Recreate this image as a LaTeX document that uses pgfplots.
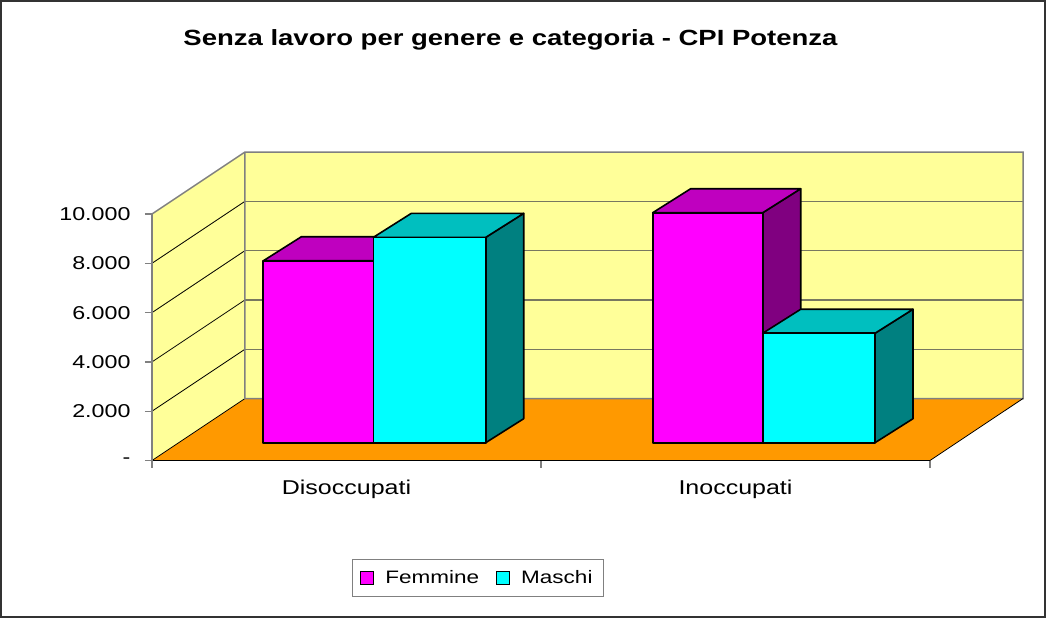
\documentclass[border=0pt]{standalone}
\usepackage{pgfplots}
\pgfplotsset{compat=1.18}
\usepackage{graphicx}
\usepackage{fontspec}
\setmainfont{Liberation Sans}
\definecolor{fem}{RGB}{255,0,255}
\definecolor{femtop}{RGB}{191,0,191}
\definecolor{femside}{RGB}{128,0,128}
\definecolor{mas}{RGB}{0,255,255}
\definecolor{mastop}{RGB}{0,191,191}
\definecolor{masside}{RGB}{0,128,128}
\definecolor{wall}{RGB}{255,255,153}
\definecolor{floorc}{RGB}{255,153,0}
\definecolor{edgec}{RGB}{128,128,128}
\definecolor{gridc}{RGB}{120,120,96}
\newcommand\sx[1]{\scalebox{1.25}[1]{#1}}
\def\base{722}\def\bdx{38}\def\bdy{974}
% x0, x1, value, front colour, top colour, side colour
\newcommand\threedbar[6]{%
 \pgfmathsetmacro\yb{\base}%
 \pgfmathsetmacro\yt{\base+#3}%
 \pgfmathsetmacro\xA{#1+\bdx}%
 \pgfmathsetmacro\xB{#2+\bdx}%
 \pgfmathsetmacro\ybb{\base+\bdy}%
 \pgfmathsetmacro\ytb{\base+#3+\bdy}%
 \edef\tmp{%
  \noexpand\addplot[forget plot,fill=#6,draw=black,line width=1.6pt,line join=round] coordinates {(#2,\yb) (\xB,\ybb) (\xB,\ytb) (#2,\yt)} -- cycle;
  \noexpand\addplot[forget plot,fill=#5,draw=black,line width=1.6pt,line join=round] coordinates {(#1,\yt) (\xA,\ytb) (\xB,\ytb) (#2,\yt)} -- cycle;
  \noexpand\addplot[forget plot,fill=#4,draw=black,line width=1.6pt,line join=round] coordinates {(#1,\yb) (#2,\yb) (#2,\yt) (#1,\yt)} -- cycle;
 }\tmp}
\begin{document}
\begin{tikzpicture}
\begin{axis}[
 scale only axis, width=778pt, height=246.5pt,
 xmin=152, xmax=930, ymin=0, ymax=10000,
 clip=false, axis on top,
 axis x line*=bottom, axis y line*=left,
 x axis line style={black, line width=1.2pt},
 y axis line style={edgec, line width=1.5pt},
 scaled y ticks=false,
 ytick={0,2000,4000,6000,8000,10000},
 yticklabels={\sx{-},\sx{2.000},\sx{4.000},\sx{6.000},\sx{8.000},\sx{10.000}},
 yticklabel style={font=\fontsize{18.6}{20}\selectfont, xshift=-11pt},
 ytick style={edgec, line width=1.2pt},
 tick align=outside, major tick length=7pt,
 xtick={346.5,735.5}, xticklabels={\sx{Disoccupati},\sx{Inoccupati}},
 xtick style={draw=none},
 xticklabel style={font=\fontsize{20}{22}\selectfont, yshift=-9pt},
 extra x ticks={152,541,930}, extra x tick labels={},
 extra x tick style={xtick style={draw=edgec, line width=1.2pt}},
 legend image code/.code={\draw[#1,draw=black,line width=1pt] (0pt,-6.5pt) rectangle (13pt,6.5pt);},
 legend style={at={(axis description cs:0.419,-0.4767)}, anchor=center, draw=edgec, line width=1pt,
   font=\fontsize{18}{20}\selectfont, legend columns=2,
   inner xsep=8pt, inner ysep=9pt,
   nodes={inner xsep=3pt},
   /tikz/every odd column/.append style={column sep=8pt},
   /tikz/every even column/.append style={column sep=14pt}},
]
% walls and floor
\addplot[forget plot, fill=wall, draw=none] coordinates {(152,0) (245,2515) (245,12515) (152,10000)} -- cycle;
\addplot[forget plot, fill=wall, draw=none] coordinates {(245,2515) (1023,2515) (1023,12515) (245,12515)} -- cycle;
\addplot[forget plot, fill=floorc, draw=none] coordinates {(152,0) (930,0) (1023,2515) (245,2515)} -- cycle;
% back wall grid
\addplot[forget plot, gridc, line width=1.2pt] coordinates {(245,4515) (1023,4515)};
\addplot[forget plot, gridc, line width=1.2pt] coordinates {(245,6515) (1023,6515)};
\addplot[forget plot, gridc, line width=1.2pt] coordinates {(245,8515) (1023,8515)};
\addplot[forget plot, gridc, line width=1.2pt] coordinates {(245,10515) (1023,10515)};
% side wall grid
\addplot[forget plot, black, line width=0.8pt] coordinates {(152,0) (245,2515)};
\addplot[forget plot, black, line width=0.8pt] coordinates {(152,2000) (245,4515)};
\addplot[forget plot, black, line width=0.8pt] coordinates {(152,4000) (245,6515)};
\addplot[forget plot, black, line width=0.8pt] coordinates {(152,6000) (245,8515)};
\addplot[forget plot, black, line width=0.8pt] coordinates {(152,8000) (245,10515)};
% edges
\addplot[forget plot, edgec, line width=1.5pt] coordinates {(152,10000) (245,12515) (1023,12515) (1023,2515) (245,2515) (245,12515)};
\addplot[forget plot, black, line width=0.8pt] coordinates {(930,0) (1023,2515)};
% bars
\threedbar{263.3}{373.3}{7380}{fem}{femtop}{femside}
\threedbar{373.3}{485.7}{8330}{mas}{mastop}{masside}
\threedbar{652.7}{762.7}{9330}{fem}{femtop}{femside}
\threedbar{762.7}{875}{4440}{mas}{mastop}{masside}
\addlegendimage{fill=fem}
\addlegendentry{\sx{Femmine}}
\addlegendimage{fill=mas}
\addlegendentry{\sx{Maschi}}
% title and frame
\node[anchor=base, font=\fontsize{22}{24}\selectfont\bfseries] at (axis cs:510.5,16856) {\sx{Senza lavoro per genere e categoria - CPI Potenza}};
\draw[line width=1.5pt, black!80] (axis cs:1,18641) rectangle (axis cs:1045,-6349);
\coordinate (bbl) at (axis cs:0,-6390);
\coordinate (btr) at (axis cs:1046,18682);
\end{axis}
\useasboundingbox (bbl) rectangle (btr);
\end{tikzpicture}
\end{document}
